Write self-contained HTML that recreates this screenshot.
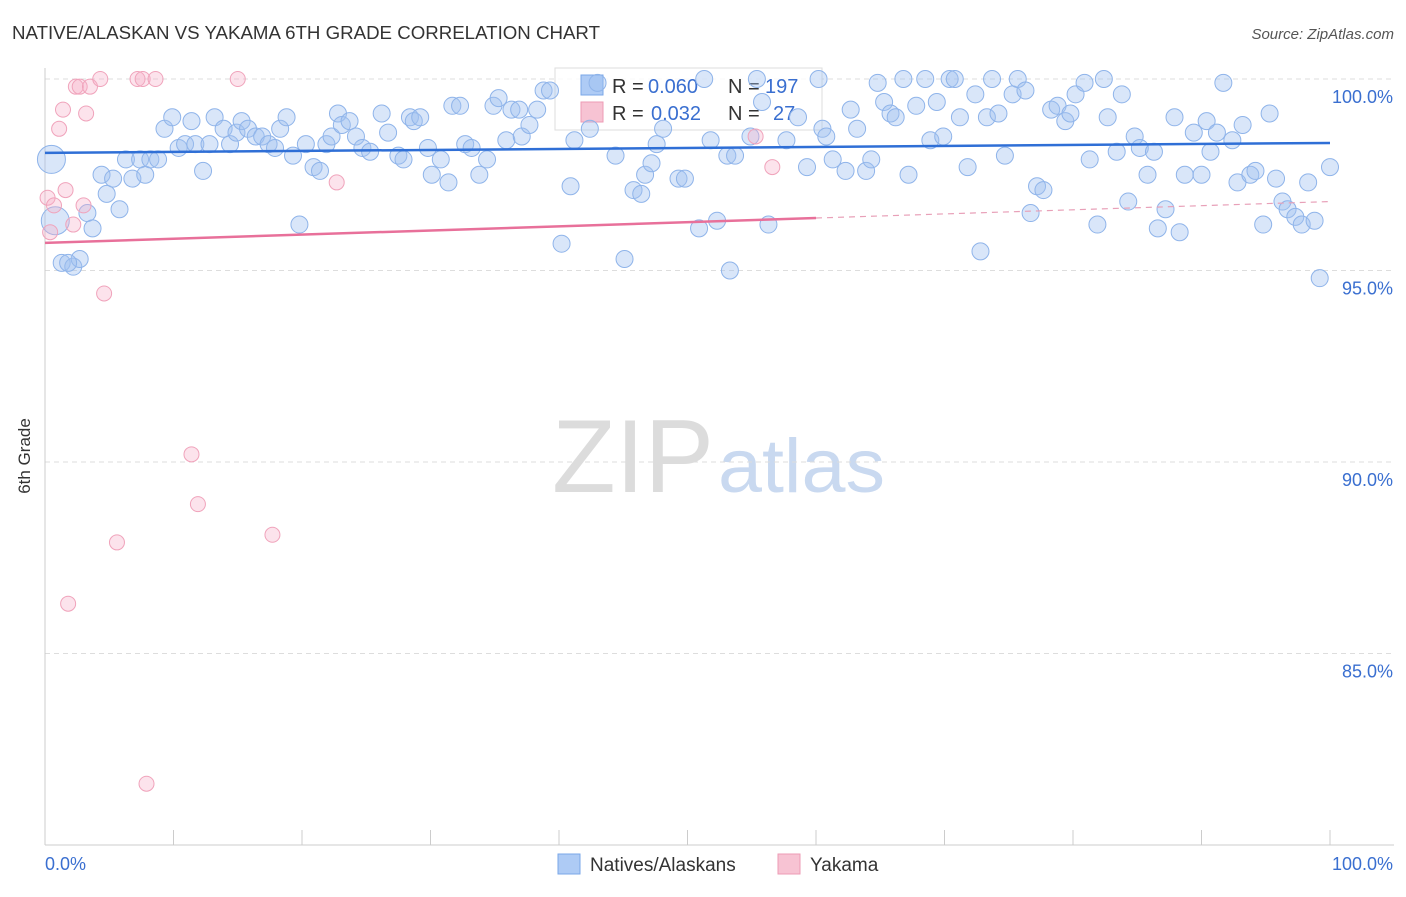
<!DOCTYPE html>
<html><head><meta charset="utf-8"><style>
body{margin:0;background:#fff;font-family:"Liberation Sans",sans-serif;}
svg text{font-family:"Liberation Sans",sans-serif;}
</style></head><body>
<svg id="chart" width="1406" height="892" xmlns="http://www.w3.org/2000/svg">
<text x="12" y="39" font-size="18" fill="#333" textLength="588" lengthAdjust="spacingAndGlyphs">NATIVE/ALASKAN VS YAKAMA 6TH GRADE CORRELATION CHART</text>
<text x="1394" y="39" font-size="15" fill="#555" font-style="italic" text-anchor="end">Source: ZipAtlas.com</text>
<text x="30" y="456" font-size="17" fill="#333" transform="rotate(-90 30 456)" text-anchor="middle">6th Grade</text>
<g>
<text x="552" y="492" font-size="104" fill="#dcdcdc" font-family="Liberation Serif,serif" textLength="162" lengthAdjust="spacingAndGlyphs">ZIP</text>
<text x="718" y="492" font-size="76" fill="#c9d9f0" textLength="167" lengthAdjust="spacingAndGlyphs">atlas</text>
</g>
<g id="grid"></g>
<g id="axes"></g>
<g>
<rect x="555" y="68" width="267" height="62" fill="rgba(255,255,255,0.8)" stroke="#ddd"/>
<rect x="581" y="75" width="22" height="20" fill="#aecbf5" stroke="#7aa7e8"/>
<text x="612" y="93" font-size="20" fill="#333">R = </text><text x="648" y="93" font-size="20" fill="#3a6fd0">0.060</text>
<text x="728" y="93" font-size="20" fill="#333">N = </text><text x="765" y="93" font-size="20" fill="#3a6fd0">197</text>
<rect x="581" y="102" width="22" height="20" fill="#f7c3d3" stroke="#ee9bb5"/>
<text x="612" y="120" font-size="20" fill="#333">R = </text><text x="651" y="120" font-size="20" fill="#3a6fd0">0.032</text>
<text x="728" y="120" font-size="20" fill="#333">N = </text><text x="773" y="120" font-size="20" fill="#3a6fd0">27</text>
</g>
<g id="pts"></g>
<g id="trend"></g>
<g>
<rect x="558" y="854" width="22" height="20" fill="#aecbf5" stroke="#7aa7e8"/>
<text x="590" y="871" font-size="19" fill="#333">Natives/Alaskans</text>
<rect x="778" y="854" width="22" height="20" fill="#f7c3d3" stroke="#ee9bb5"/>
<text x="810" y="871" font-size="19" fill="#333">Yakama</text>
</g>
</svg>
<script>
const yTicks=[100,95,90,85];
const xTickLabels=["0.0%","100.0%"];
const blueX=[0.5,0.8,1.3,2.2,2.7,1.8,3.3,3.7,4.4,4.8,5.3,5.8,6.3,6.8,7.4,7.8,8.2,8.8,9.3,9.9,10.4,10.9,11.4,11.7,12.3,12.8,13.2,13.9,14.4,14.9,15.3,15.8,16.4,16.9,17.4,17.9,18.3,18.8,19.3,19.8,20.3,20.9,21.4,21.9,22.3,22.8,23.1,23.7,24.2,24.7,25.3,26.2,26.7,27.5,27.9,28.4,28.7,29.2,29.8,30.1,30.8,31.4,31.7,32.3,32.7,33.2,33.8,34.4,34.9,35.3,35.9,36.3,36.9,37.1,37.7,38.3,38.8,39.3,40.2,40.9,41.2,42.4,43.0,44.4,45.1,45.8,46.4,46.7,47.2,47.6,48.1,49.3,49.8,50.9,51.3,51.8,52.3,53.1,53.3,53.7,54.9,55.4,55.8,56.3,57.7,58.6,59.3,60.2,60.5,60.8,61.3,62.3,62.7,63.2,63.9,64.3,64.8,65.3,65.8,66.2,66.8,67.2,67.8,68.5,68.9,69.4,69.9,70.4,70.8,71.2,71.8,72.4,72.8,73.3,73.7,74.2,74.7,75.3,75.7,76.3,76.7,77.2,77.7,78.3,78.8,79.4,79.8,80.2,80.9,81.3,81.9,82.4,82.7,83.4,83.8,84.3,84.8,85.2,85.8,86.3,86.6,87.2,87.9,88.3,88.7,89.4,90.0,90.4,90.7,91.2,91.7,92.4,92.8,93.2,93.8,94.2,94.8,95.3,95.8,96.3,96.7,97.3,97.8,98.3,98.8,99.2,100];
const blueY=[97.9,96.3,95.2,95.1,95.3,95.2,96.5,96.1,97.5,97.0,97.4,96.6,97.9,97.4,97.9,97.5,97.9,97.9,98.7,99.0,98.2,98.3,98.9,98.3,97.6,98.3,99.0,98.7,98.3,98.6,98.9,98.7,98.5,98.5,98.3,98.2,98.7,99.0,98.0,96.2,98.3,97.7,97.6,98.3,98.5,99.1,98.8,98.9,98.5,98.2,98.1,99.1,98.6,98.0,97.9,99.0,98.9,99.0,98.2,97.5,97.9,97.3,99.3,99.3,98.3,98.2,97.5,97.9,99.3,99.5,98.4,99.2,99.2,98.5,98.8,99.2,99.7,99.7,95.7,97.2,98.4,98.7,99.9,98.0,95.3,97.1,97.0,97.5,97.8,98.3,98.7,97.4,97.4,96.1,100.0,98.4,96.3,98.0,95.0,98.0,98.5,100.0,99.4,96.2,98.4,99.0,97.7,100.0,98.7,98.5,97.9,97.6,99.2,98.7,97.6,97.9,99.9,99.4,99.1,99.0,100.0,97.5,99.3,100.0,98.4,99.4,98.5,100.0,100.0,99.0,97.7,99.6,95.5,99.0,100.0,99.1,98.0,99.6,100.0,99.7,96.5,97.2,97.1,99.2,99.3,98.9,99.1,99.6,99.9,97.9,96.2,100.0,99.0,98.1,99.6,96.8,98.5,98.2,97.5,98.1,96.1,96.6,99.0,96.0,97.5,98.6,97.5,98.9,98.1,98.6,99.9,98.4,97.3,98.8,97.5,97.6,96.2,99.1,97.4,96.8,96.6,96.4,96.2,97.3,96.3,94.8,97.7];
const pinkX=[0.2,0.4,0.7,1.1,1.4,1.6,1.8,2.2,2.4,2.7,3.0,3.2,3.5,4.3,4.6,5.6,7.2,7.6,7.9,8.6,11.4,11.9,15.0,17.7,22.7,55.3,56.6];
const pinkY=[96.9,96.0,96.7,98.7,99.2,97.1,86.3,96.2,99.8,99.8,96.7,99.1,99.8,100.0,94.4,87.9,100,100,81.6,100,90.2,88.9,100,88.1,97.3,98.5,97.7];
const blueTrend=[98.07,98.33];
const pinkTrend=[95.72,96.37,96.8];
const NS="http://www.w3.org/2000/svg";
const X=v=>45+v*12.85, Y=v=>79+(100-v)*38.3;
function mk(t,a,p){const e=document.createElementNS(NS,t);for(const k in a)e.setAttribute(k,a[k]);p.appendChild(e);return e;}
const grid=document.getElementById('grid'),axes=document.getElementById('axes');
yTicks.forEach(t=>{
 const l=mk('line',{x1:45,x2:1394,y1:Y(t),y2:Y(t),stroke:'#ddd','stroke-dasharray':'5,4'},grid);
 
 
 const tx=mk('text',{x:1393,y:Y(t)+24,'font-size':18,fill:'#3a6fd0','text-anchor':'end'},axes);tx.textContent=t.toFixed(1)+'%';
 
 
});
mk('line',{x1:45,x2:45,y1:68,y2:845,stroke:'#ccc'},axes);
mk('line',{x1:45,x2:1394,y1:845,y2:845,stroke:'#ccc'},axes);
for(let i=0;i<=10;i++){const l=mk('line',{x1:X(i*10),x2:X(i*10),y1:830,y2:845,stroke:'#ccc'},axes);
 
 }
[[0,'start'],[100,'end']].forEach((p,i)=>{const t=mk('text',{x:X(p[0])+(i?63:0),y:870,'font-size':18,fill:'#3a6fd0','text-anchor':p[1]},axes);t.textContent=xTickLabels[i];
 
 });
const pts=document.getElementById('pts');
blueX.forEach((x,i)=>{const r=i<2?14:8.5;const c=mk('circle',{cx:X(x),cy:Y(blueY[i]),r:r,fill:'rgba(160,192,240,0.4)',stroke:'#8fb4ea','stroke-width':1},pts);
 
 });
pinkX.forEach((x,i)=>{const c=mk('circle',{cx:X(x),cy:Y(pinkY[i]),r:7.5,fill:'rgba(245,175,200,0.35)',stroke:'#f0a3bb','stroke-width':1},pts);
 
 });
const tr=document.getElementById('trend');
const b=mk('line',{x1:X(0),y1:Y(blueTrend[0]),x2:X(100),y2:Y(blueTrend[1]),stroke:'#2f6fd6','stroke-width':2.5},tr);


const p1=mk('line',{x1:X(0),y1:Y(pinkTrend[0]),x2:X(60),y2:Y(pinkTrend[1]),stroke:'#e8709a','stroke-width':2.5},tr);


const p2=mk('line',{x1:X(60),y1:Y(pinkTrend[1]),x2:X(100),y2:Y(pinkTrend[2]),stroke:'#e8a0b8','stroke-width':1.2,'stroke-dasharray':'6,5'},tr);


</script>
</body></html>
